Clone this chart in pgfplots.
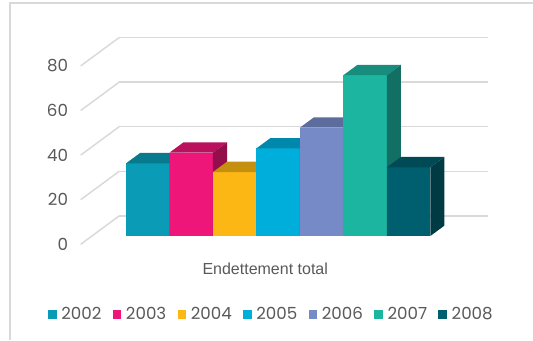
\documentclass[border=0pt]{standalone}
\usepackage{fontspec}
\setmainfont{Poppins}
\newfontfamily\arialfont{Liberation Sans}
\usepackage{pgfplots}
\pgfplotsset{compat=1.18}
\definecolor{c02}{HTML}{0A9CB6}
\definecolor{c03}{HTML}{EE1679}
\definecolor{c04}{HTML}{FDB714}
\definecolor{c05}{HTML}{00AEDC}
\definecolor{c06}{HTML}{768AC8}
\definecolor{c07}{HTML}{1CB5A0}
\definecolor{c08}{HTML}{005F6E}
\definecolor{gridgray}{HTML}{D9D9D9}
\definecolor{labelgray}{HTML}{595959}
\begin{document}
\begin{tikzpicture}
\begin{axis}[
  x={(32.6pt,0pt)}, y={(28.875pt,21.3pt)}, z={(0pt,1.6725pt)},
  xmin=-1.285, xmax=7.205, ymin=0, ymax=1, zmin=0, zmax=80,
  axis lines*=left,
  axis line style={draw=none},
  clip=false,
  xtick={2.96}, xticklabels={Endettement total},
  ytick=\empty,
  ztick={0,20,40,60,80},
  major tick length=0pt,
  zmajorgrids,
  major grid style={color=gridgray, line width=1.1pt},
  tick label style={text=labelgray},
  zticklabel style={font=\fontsize{12.5}{14}\selectfont, anchor=east, xshift=-6pt},
  xticklabel style={font=\arialfont\fontsize{12}{14}\selectfont, anchor=center, yshift=-18pt},
  /pgf/number format/assume math mode=true,
  legend columns=7,
  legend style={draw=none, fill=none, at={(axis cs:3.109,0,-31.4)}, anchor=center,
    font=\fontsize{12.5}{14}\selectfont, text=labelgray,
    /tikz/every even column/.append style={column sep=6.4pt}},
  legend image code/.code={\fill[#1] (0pt,-3.2pt) rectangle (6.4pt,3.2pt);\path (8pt,0pt);},
  every axis plot/.append style={draw=none},
]
\coordinate (O) at (axis cs:-1.285,0,0);
% 2002
\addplot3[fill=c02] coordinates {(-0.5,0.292,0) (0.5,0.292,0) (0.5,0.292,32.6) (-0.5,0.292,32.6)};
\addlegendentry{2002}
\addplot3[fill=c02!78!black, forget plot] coordinates {(-0.5,0.292,32.6) (0.5,0.292,32.6) (0.5,0.656,32.6) (-0.5,0.656,32.6)};
\addplot3[fill=c02!62!black, forget plot] coordinates {(0.5,0.292,0) (0.5,0.656,0) (0.5,0.656,32.6) (0.5,0.292,32.6)};
% 2003
\addplot3[fill=c03] coordinates {(0.5,0.292,0) (1.5,0.292,0) (1.5,0.292,37.4) (0.5,0.292,37.4)};
\addlegendentry{2003}
\addplot3[fill=c03!78!black, forget plot] coordinates {(0.5,0.292,37.4) (1.5,0.292,37.4) (1.5,0.656,37.4) (0.5,0.656,37.4)};
\addplot3[fill=c03!62!black, forget plot] coordinates {(1.5,0.292,0) (1.5,0.656,0) (1.5,0.656,37.4) (1.5,0.292,37.4)};
% 2004
\addplot3[fill=c04] coordinates {(1.5,0.292,0) (2.5,0.292,0) (2.5,0.292,28.7) (1.5,0.292,28.7)};
\addlegendentry{2004}
\addplot3[fill=c04!78!black, forget plot] coordinates {(1.5,0.292,28.7) (2.5,0.292,28.7) (2.5,0.656,28.7) (1.5,0.656,28.7)};
\addplot3[fill=c04!62!black, forget plot] coordinates {(2.5,0.292,0) (2.5,0.656,0) (2.5,0.656,28.7) (2.5,0.292,28.7)};
% 2005
\addplot3[fill=c05] coordinates {(2.5,0.292,0) (3.5,0.292,0) (3.5,0.292,39.3) (2.5,0.292,39.3)};
\addlegendentry{2005}
\addplot3[fill=c05!78!black, forget plot] coordinates {(2.5,0.292,39.3) (3.5,0.292,39.3) (3.5,0.656,39.3) (2.5,0.656,39.3)};
\addplot3[fill=c05!62!black, forget plot] coordinates {(3.5,0.292,0) (3.5,0.656,0) (3.5,0.656,39.3) (3.5,0.292,39.3)};
% 2006
\addplot3[fill=c06] coordinates {(3.5,0.292,0) (4.5,0.292,0) (4.5,0.292,48.6) (3.5,0.292,48.6)};
\addlegendentry{2006}
\addplot3[fill=c06!78!black, forget plot] coordinates {(3.5,0.292,48.6) (4.5,0.292,48.6) (4.5,0.656,48.6) (3.5,0.656,48.6)};
\addplot3[fill=c06!62!black, forget plot] coordinates {(4.5,0.292,0) (4.5,0.656,0) (4.5,0.656,48.6) (4.5,0.292,48.6)};
% 2007
\addplot3[fill=c07] coordinates {(4.5,0.292,0) (5.5,0.292,0) (5.5,0.292,72.1) (4.5,0.292,72.1)};
\addlegendentry{2007}
\addplot3[fill=c07!78!black, forget plot] coordinates {(4.5,0.292,72.1) (5.5,0.292,72.1) (5.5,0.656,72.1) (4.5,0.656,72.1)};
\addplot3[fill=c07!62!black, forget plot] coordinates {(5.5,0.292,0) (5.5,0.656,0) (5.5,0.656,72.1) (5.5,0.292,72.1)};
% 2008
\addplot3[fill=c08] coordinates {(5.5,0.292,0) (6.5,0.292,0) (6.5,0.292,30.8) (5.5,0.292,30.8)};
\addlegendentry{2008}
\addplot3[fill=c08!78!black, forget plot] coordinates {(5.5,0.292,30.8) (6.5,0.292,30.8) (6.5,0.656,30.8) (5.5,0.656,30.8)};
\addplot3[fill=c08!62!black, forget plot] coordinates {(6.5,0.292,0) (6.5,0.656,0) (6.5,0.656,30.8) (6.5,0.292,30.8)};
\end{axis}
\pgfresetboundingbox
\path[use as bounding box] ([shift={(-60.525pt,-71.775pt)}]O) rectangle ([shift={(339.225pt,183.225pt)}]O);
\draw[gridgray, line width=0.8pt] ([shift={(-53pt,-72pt)}]O) -- ([shift={(-53pt,181pt)}]O) -- ([shift={(340pt,181pt)}]O);
\end{tikzpicture}
\end{document}
